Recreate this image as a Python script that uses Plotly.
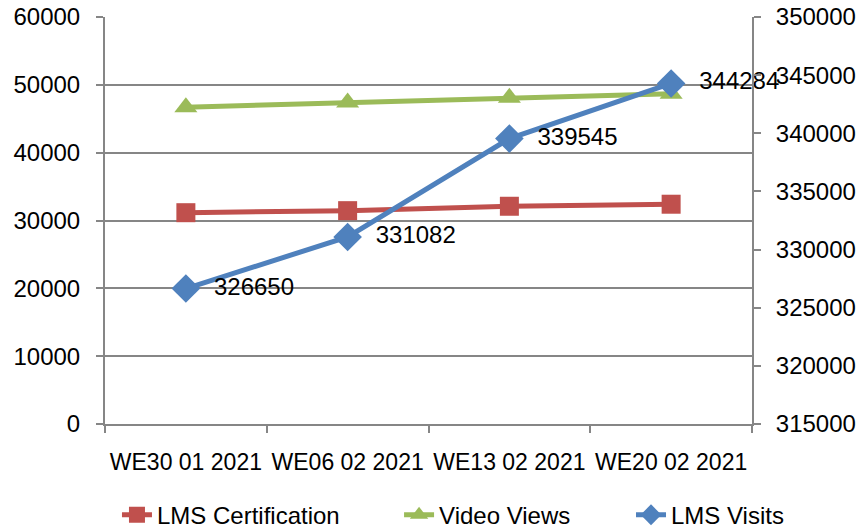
import plotly.graph_objects as go

categories = ["WE30 01 2021", "WE06 02 2021", "WE13 02 2021", "WE20 02 2021"]
lms_certification = [31150, 31450, 32100, 32400]
video_views = [46700, 47400, 48100, 48700]
lms_visits = [326650, 331082, 339545, 344284]

left_ticks = [0, 10000, 20000, 30000, 40000, 50000, 60000]
right_ticks = [315000, 320000, 325000, 330000, 335000, 340000, 345000, 350000]

FONT = "Liberation Sans"
GRID = "#868686"

fig = go.Figure()
fig.add_trace(go.Scatter(
    x=categories, y=lms_certification, name="LMS Certification", mode="lines+markers",
    line=dict(color="#C0504D", width=5), legend="legend",
    marker=dict(symbol="square", size=19, color="#C0504D"),
))
fig.add_trace(go.Scatter(
    x=categories, y=video_views, name="Video Views", mode="lines+markers",
    line=dict(color="#9BBB59", width=5), legend="legend2",
    marker=dict(symbol="triangle-up", size=20, color="#9BBB59"),
))
fig.add_trace(go.Scatter(
    x=categories, y=lms_visits, name="LMS Visits", mode="lines+markers+text",
    yaxis="y2", cliponaxis=False, legend="legend3",
    line=dict(color="#4F81BD", width=5),
    marker=dict(symbol="diamond", size=22, color="#4F81BD"),
    text=[str(v) for v in lms_visits], texttemplate="\u00a0\u00a0%{text}",
    textposition="middle right",
    textfont=dict(family=FONT, size=24, color="black"),
))

leg = dict(orientation="h", xanchor="left", y=-0.224, yanchor="middle",
           font=dict(family=FONT, size=24), bgcolor="rgba(0,0,0,0)")

fig.update_layout(
    width=862, height=528,
    margin=dict(l=105, r=110, t=17, b=104, autoexpand=False),
    paper_bgcolor="white", plot_bgcolor="white",
    font=dict(family=FONT, size=24, color="black"),
    showlegend=True,
    legend=dict(leg, x=0.0185),
    legend2=dict(leg, x=0.4545),
    legend3=dict(leg, x=0.813),
    xaxis=dict(
        type="category", range=[-0.5, 3.5], tickson="boundaries", automargin=False,
        showline=True, linecolor=GRID, linewidth=2, tickangle=0,
        ticks="outside", ticklen=7, tickcolor=GRID, tickwidth=2,
        showgrid=False, tickfont=dict(size=23), ticklabelstandoff=16,
        ticklabeloverflow="allow",
    ),
    yaxis=dict(
        range=[0, 60000], tickvals=left_ticks, ticktext=[str(v) for v in left_ticks],
        automargin=False, ticklabeloverflow="allow",
        showline=True, linecolor=GRID, linewidth=2,
        ticks="outside", ticklen=7, tickcolor=GRID, tickwidth=2,
        showgrid=True, gridcolor=GRID, gridwidth=2, zeroline=False,
        ticklabelstandoff=11,
    ),
    yaxis2=dict(
        range=[315000, 350000], tickvals=right_ticks, ticktext=[str(v) for v in right_ticks],
        overlaying="y", side="right", automargin=False, ticklabeloverflow="allow",
        showline=True, linecolor=GRID, linewidth=2,
        ticks="outside", ticklen=7, tickcolor=GRID, tickwidth=2,
        showgrid=False, zeroline=False, ticklabelstandoff=10,
    ),
)

fig.write_html("out.html", config={"displayModeBar": False},
               post_script="document.body.style.margin='0';")
